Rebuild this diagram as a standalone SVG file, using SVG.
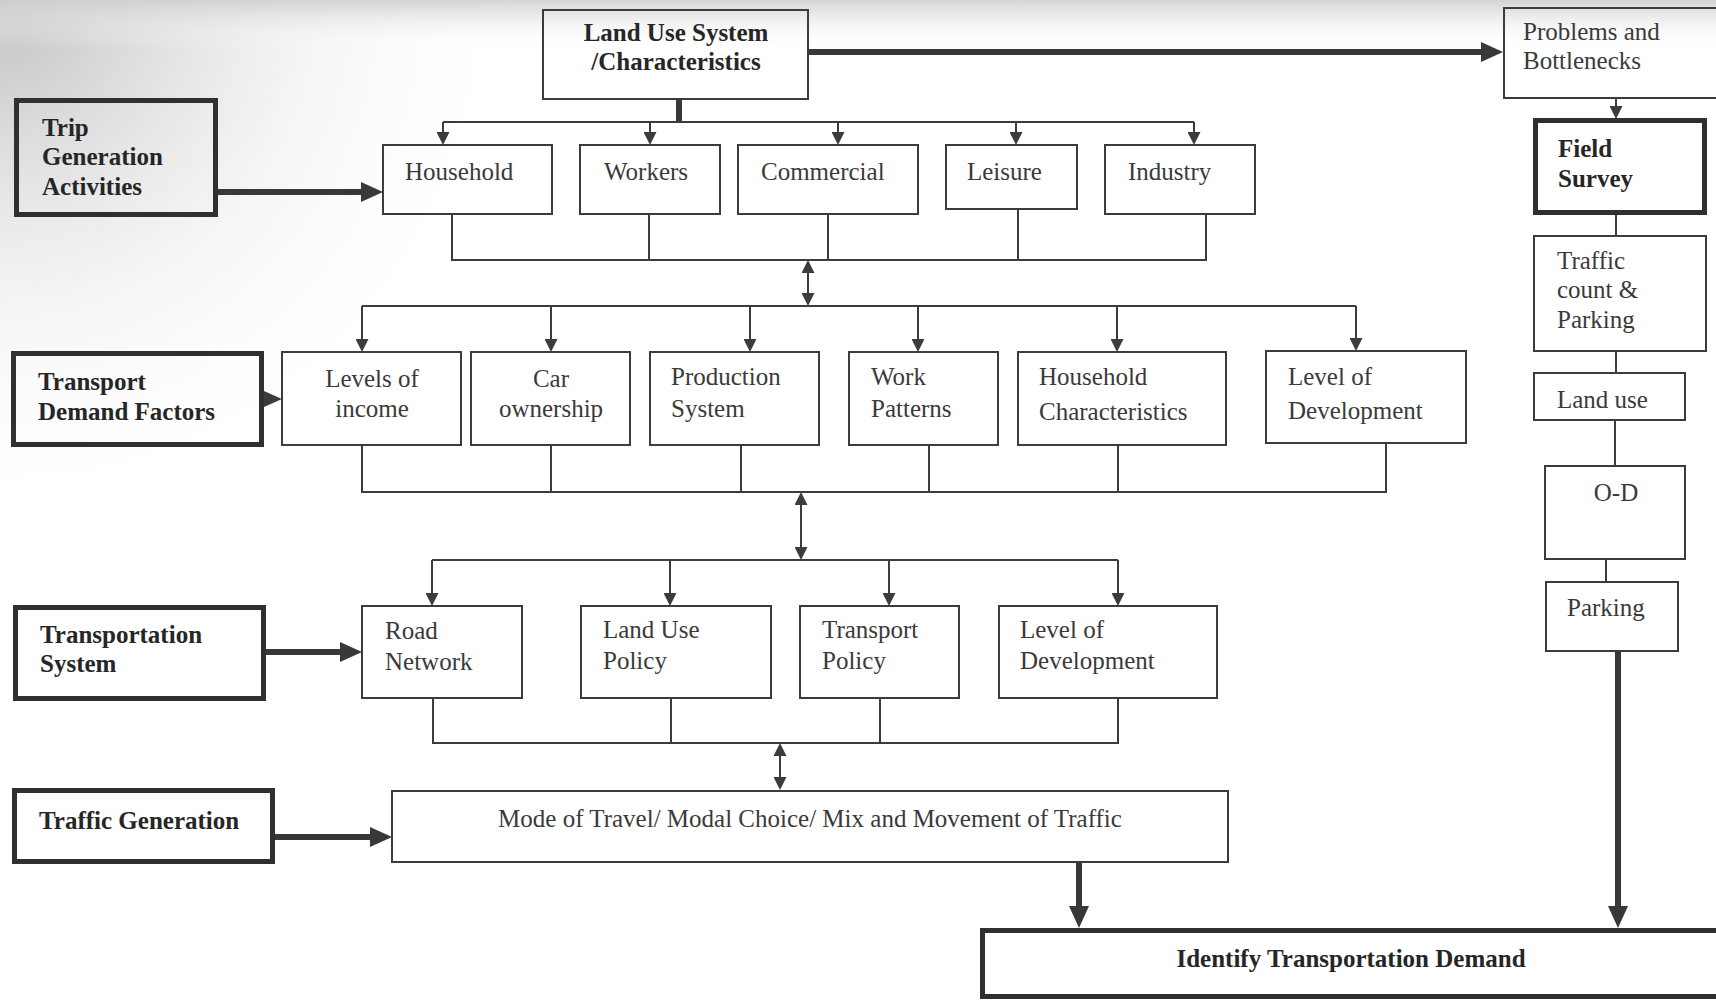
<svg xmlns="http://www.w3.org/2000/svg" width="1716" height="1000" viewBox="0 0 1716 1000">
  <defs>
    <style>
      .box{fill:none;stroke:#3c3c3c;stroke-width:2}
      .heavy{fill:none;stroke:#303030;stroke-width:5}
      .t{font-family:"Liberation Serif","Times New Roman",serif;font-size:25px;fill:#3a3a3a}
      .b{font-weight:bold;fill:#262626}
      .c{text-anchor:middle}
      .ln{fill:none;stroke:#3c3c3c;stroke-width:2}
      .thick{fill:none;stroke:#383838;stroke-width:6}
      .arr{marker-end:url(#ah)}
      .dbl{marker-start:url(#ah);marker-end:url(#ah)}
      .big{marker-end:url(#ahBig)}
    </style>
    <marker id="ah" markerUnits="userSpaceOnUse" markerWidth="13" markerHeight="13" viewBox="0 0 13 13" refX="0" refY="6.5" orient="auto-start-reverse">
      <path d="M0,0 L13,6.5 L0,13 z" fill="#3c3c3c"/>
    </marker>
    <marker id="ahBig" markerUnits="userSpaceOnUse" markerWidth="22" markerHeight="20" viewBox="0 0 22 20" refX="0" refY="10" orient="auto">
      <path d="M0,0 L22,10 L0,20 z" fill="#383838"/>
    </marker>
    <radialGradient id="shade" cx="0" cy="0" r="520" gradientUnits="userSpaceOnUse">
      <stop offset="0" stop-color="#b4b4b4" stop-opacity="0.85"/>
      <stop offset="0.45" stop-color="#d4d4d4" stop-opacity="0.45"/>
      <stop offset="1" stop-color="#ffffff" stop-opacity="0"/>
    </radialGradient>
    <linearGradient id="topband" x1="0" y1="0" x2="0" y2="1">
      <stop offset="0" stop-color="#cfcfcf" stop-opacity="0.9"/>
      <stop offset="1" stop-color="#ffffff" stop-opacity="0"/>
    </linearGradient>
  </defs>

  <!-- paper background -->
  <rect x="0" y="0" width="1716" height="1000" fill="#ffffff"/>
  <rect x="0" y="0" width="1716" height="1000" fill="url(#shade)"/>
  <rect x="0" y="0" width="1716" height="50" fill="url(#topband)"/>

  <!-- connectors -->
  <g id="connectors">
    <!-- land use to problems -->
    <path class="thick big" d="M808,52 H1481"/>
    <!-- land use stem and top bracket -->
    <path class="thick" d="M679,99 V122"/>
    <path class="ln" d="M443,122 H1194"/>
    <path class="ln arr" d="M443,122 V132"/>
    <path class="ln arr" d="M650,122 V132"/>
    <path class="ln arr" d="M838,122 V132"/>
    <path class="ln arr" d="M1016,122 V132"/>
    <path class="ln arr" d="M1194,122 V132"/>
    <!-- trip generation -->
    <path class="thick big" d="M218,192 H361"/>
    <!-- row 1 bottom bracket -->
    <path class="ln" d="M452,214 V260 H1206 V214 M649,214 V260 M828,214 V260 M1018,209 V260"/>
    <path class="ln dbl" d="M808,273 V293"/>
    <!-- row 2 top bracket -->
    <path class="ln" d="M362,306 H1356"/>
    <path class="ln arr" d="M362,306 V339"/>
    <path class="ln arr" d="M551,306 V339"/>
    <path class="ln arr" d="M750,306 V339"/>
    <path class="ln arr" d="M918,306 V339"/>
    <path class="ln arr" d="M1117,306 V339"/>
    <path class="ln arr" d="M1356,306 V338"/>
    <!-- transport demand factors pointer -->
    <path d="M264,391 L282,399 L264,407 z" fill="#3c3c3c"/>
    <!-- row 2 bottom bracket -->
    <path class="ln" d="M362,445 V492 H1386 V443 M551,445 V492 M741,445 V492 M929,445 V492 M1118,445 V492"/>
    <path class="ln dbl" d="M801,505 V547"/>
    <!-- row 3 top bracket -->
    <path class="ln" d="M432,560 H1118"/>
    <path class="ln arr" d="M432,560 V593"/>
    <path class="ln arr" d="M670,560 V593"/>
    <path class="ln arr" d="M889,560 V593"/>
    <path class="ln arr" d="M1118,560 V593"/>
    <!-- transportation system -->
    <path class="thick big" d="M265,652 H340"/>
    <!-- row 3 bottom bracket -->
    <path class="ln" d="M433,698 V743 H1118 V698 M671,698 V743 M880,698 V743"/>
    <path class="ln dbl" d="M780,756 V777"/>
    <!-- traffic generation -->
    <path class="thick big" d="M275,837 H370"/>
    <!-- into identify -->
    <path class="thick big" d="M1079,862 V906"/>
    <path class="thick big" d="M1618,651 V906"/>
    <!-- field survey chain -->
    <path class="ln arr" d="M1616,98 V106"/>
    <path class="ln" d="M1616,215 V236 M1616,351 V373 M1615,420 V466 M1606,559 V582"/>
  </g>

  <!-- nodes -->
  <g id="land-use-system">
    <rect class="box" x="543" y="10" width="265" height="89"/>
    <text class="t b c" x="676" y="41">Land Use System</text>
    <text class="t b c" x="676" y="70">/Characteristics</text>
  </g>
  <g id="problems">
    <rect class="box" x="1504" y="8" width="220" height="90"/>
    <text class="t" x="1523" y="40">Problems and</text>
    <text class="t" x="1523" y="69">Bottlenecks</text>
  </g>
  <g id="trip-generation">
    <rect class="heavy" x="16.5" y="100.5" width="199" height="114"/>
    <text class="t b" x="42" y="136">Trip</text>
    <text class="t b" x="42" y="165">Generation</text>
    <text class="t b" x="42" y="195">Activities</text>
  </g>
  <g id="household">
    <rect class="box" x="383" y="145" width="169" height="69"/>
    <text class="t" x="405" y="180">Household</text>
  </g>
  <g id="workers">
    <rect class="box" x="580" y="145" width="140" height="69"/>
    <text class="t" x="604" y="180">Workers</text>
  </g>
  <g id="commercial">
    <rect class="box" x="738" y="145" width="180" height="69"/>
    <text class="t" x="761" y="180">Commercial</text>
  </g>
  <g id="leisure">
    <rect class="box" x="946" y="145" width="131" height="64"/>
    <text class="t" x="967" y="180">Leisure</text>
  </g>
  <g id="industry">
    <rect class="box" x="1105" y="145" width="150" height="69"/>
    <text class="t" x="1128" y="180">Industry</text>
  </g>

  <g id="transport-demand-factors">
    <rect class="heavy" x="13.5" y="353.5" width="248" height="91"/>
    <text class="t b" x="38" y="390">Transport</text>
    <text class="t b" x="38" y="420">Demand Factors</text>
  </g>
  <g id="levels-of-income">
    <rect class="box" x="282" y="352" width="179" height="93"/>
    <text class="t c" x="372" y="387">Levels of</text>
    <text class="t c" x="372" y="417">income</text>
  </g>
  <g id="car-ownership">
    <rect class="box" x="471" y="352" width="159" height="93"/>
    <text class="t c" x="551" y="387">Car</text>
    <text class="t c" x="551" y="417">ownership</text>
  </g>
  <g id="production-system">
    <rect class="box" x="650" y="352" width="169" height="93"/>
    <text class="t" x="671" y="385">Production</text>
    <text class="t" x="671" y="417">System</text>
  </g>
  <g id="work-patterns">
    <rect class="box" x="849" y="352" width="149" height="93"/>
    <text class="t" x="871" y="385">Work</text>
    <text class="t" x="871" y="417">Patterns</text>
  </g>
  <g id="household-characteristics">
    <rect class="box" x="1018" y="352" width="208" height="93"/>
    <text class="t" x="1039" y="385">Household</text>
    <text class="t" x="1039" y="420">Characteristics</text>
  </g>
  <g id="level-of-development-1">
    <rect class="box" x="1266" y="351" width="200" height="92"/>
    <text class="t" x="1288" y="385">Level of</text>
    <text class="t" x="1288" y="419">Development</text>
  </g>

  <g id="transportation-system">
    <rect class="heavy" x="15.5" y="607.5" width="248" height="91"/>
    <text class="t b" x="40" y="643">Transportation</text>
    <text class="t b" x="40" y="672">System</text>
  </g>
  <g id="road-network">
    <rect class="box" x="362" y="606" width="160" height="92"/>
    <text class="t" x="385" y="639">Road</text>
    <text class="t" x="385" y="670">Network</text>
  </g>
  <g id="land-use-policy">
    <rect class="box" x="581" y="606" width="190" height="92"/>
    <text class="t" x="603" y="638">Land Use</text>
    <text class="t" x="603" y="669">Policy</text>
  </g>
  <g id="transport-policy">
    <rect class="box" x="800" y="606" width="159" height="92"/>
    <text class="t" x="822" y="638">Transport</text>
    <text class="t" x="822" y="669">Policy</text>
  </g>
  <g id="level-of-development-2">
    <rect class="box" x="999" y="606" width="218" height="92"/>
    <text class="t" x="1020" y="638">Level of</text>
    <text class="t" x="1020" y="669">Development</text>
  </g>

  <g id="traffic-generation">
    <rect class="heavy" x="14.5" y="790.5" width="258" height="71"/>
    <text class="t b" x="39" y="829">Traffic Generation</text>
  </g>
  <g id="mode-of-travel">
    <rect class="box" x="392" y="791" width="836" height="71"/>
    <text class="t c" x="810" y="827">Mode of Travel/ Modal Choice/ Mix and Movement of Traffic</text>
  </g>
  <g id="identify-demand">
    <rect class="heavy" x="982.5" y="930.5" width="750" height="66"/>
    <text class="t b c" x="1351" y="967">Identify Transportation Demand</text>
  </g>

  <g id="field-survey">
    <rect class="heavy" x="1535.5" y="120.5" width="169" height="92"/>
    <text class="t b" x="1558" y="157">Field</text>
    <text class="t b" x="1558" y="187">Survey</text>
  </g>
  <g id="traffic-count">
    <rect class="box" x="1534" y="236" width="172" height="115"/>
    <text class="t" x="1557" y="269">Traffic</text>
    <text class="t" x="1557" y="298">count &amp;</text>
    <text class="t" x="1557" y="328">Parking</text>
  </g>
  <g id="land-use">
    <rect class="box" x="1534" y="373" width="151" height="47"/>
    <text class="t" x="1557" y="408">Land use</text>
  </g>
  <g id="o-d">
    <rect class="box" x="1545" y="466" width="140" height="93"/>
    <text class="t c" x="1616" y="501">O-D</text>
  </g>
  <g id="parking">
    <rect class="box" x="1546" y="582" width="132" height="69"/>
    <text class="t" x="1567" y="616">Parking</text>
  </g>
</svg>
